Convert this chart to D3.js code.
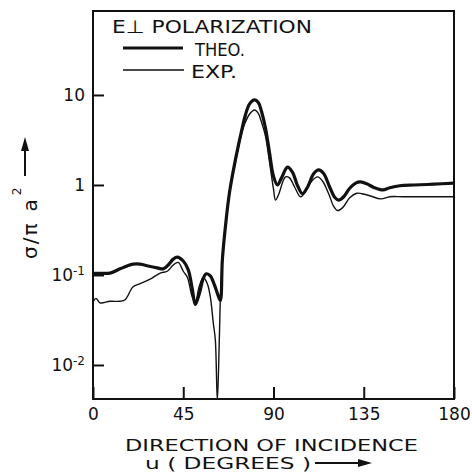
<!DOCTYPE html>
<html>
<head>
<meta charset="utf-8">
<script src="https://cdn.jsdelivr.net/npm/d3@7"></script>
<style>
  body { margin: 0; background: #fff; }
  svg { display: block; }
  text { font-family: "DejaVu Sans", sans-serif; fill: #111; }
</style>
</head>
<body>
<svg id="chart" width="472" height="472"></svg>
<script>
// Direction of incidence u (degrees) and normalised cross-section sigma / (pi a^2)
const theoAngle = [0, 1, 8.5, 13.5, 17, 20, 23.5, 27.5, 32, 35, 37.5, 40, 42, 45, 47.5, 49.5, 51, 53, 55, 56.5, 58.5, 60.5, 62.5, 63.5, 64.5, 66, 68, 71, 74.5, 76, 78, 80.5, 82.5, 84, 86, 88, 90, 92, 94, 97, 99.5, 102, 104.5, 107, 110, 112.5, 115, 118, 120.5, 122.5, 125, 128, 131, 133.5, 136.5, 140, 144.5, 148, 153, 160, 170, 180];
const theoSigma = [0.102, 0.104, 0.105, 0.117, 0.126, 0.132, 0.132, 0.126, 0.12, 0.117, 0.129, 0.15, 0.158, 0.143, 0.114, 0.07, 0.047, 0.062, 0.092, 0.103, 0.098, 0.078, 0.058, 0.052, 0.147, 0.34, 0.81, 1.9, 4.4, 6.0, 7.9, 8.8, 8.2, 6.6, 4.3, 2.3, 1.25, 1.0, 1.2, 1.58, 1.38, 0.98, 0.8, 0.95, 1.33, 1.47, 1.34, 0.95, 0.73, 0.68, 0.74, 0.92, 1.05, 1.08, 1.03, 0.94, 0.88, 0.93, 0.98, 1.0, 1.02, 1.05];

const expAngle = [0, 1.5, 3.5, 8.5, 13.5, 16, 20, 23.5, 28.5, 33.5, 37, 40, 42.5, 45, 47, 49.5, 51, 53, 55, 57, 58.5, 60, 61, 62, 63, 63.5, 64.5, 66, 68, 71, 74.5, 76, 78, 80.5, 82.5, 84, 86, 88, 90, 91, 92.5, 96, 98, 100.5, 103.5, 106, 109, 112, 114.5, 117.5, 120, 122, 124.5, 128, 131.5, 134, 138, 143.5, 148, 155, 180];
const expSigma = [0.05, 0.055, 0.049, 0.051, 0.051, 0.053, 0.074, 0.08, 0.09, 0.105, 0.11, 0.129, 0.138, 0.11, 0.095, 0.057, 0.05, 0.075, 0.093, 0.08, 0.057, 0.029, 0.019, 0.004, 0.02, 0.053, 0.14, 0.33, 0.78, 1.8, 4.0, 5.0, 6.1, 6.8, 6.2, 5.0, 3.5, 1.8, 0.9, 0.68, 0.78, 1.23, 1.2, 0.95, 0.74, 0.85, 1.1, 1.23, 1.1, 0.8, 0.58, 0.52, 0.56, 0.72, 0.81, 0.8, 0.76, 0.7, 0.74, 0.74, 0.74];

const xTicks = [0, 45, 90, 135, 180];
const yTicks = [10, 1, 0.1, 0.01];
const yTickBase = ["10", "1", "10", "10"];
const yTickExp = ["", "", "-1", "-2"];

const svg = d3.select("#chart");
const plotLeft = 93, plotRight = 454, plotTop = 11, plotBottom = 399;

const x = d3.scaleLinear().domain([0, 180]).range([plotLeft, plotRight]);
const y = d3.scaleLog().domain([Math.pow(10, -2.378), Math.pow(10, 1.933)]).range([plotBottom, plotTop]);

// clip for the curves
svg.append("defs").append("clipPath").attr("id", "plot")
  .append("rect").attr("x", plotLeft).attr("y", plotTop)
  .attr("width", plotRight - plotLeft).attr("height", plotBottom - plotTop);

// x axis (ticks point inward)
const gx = svg.append("g").attr("transform", `translate(0,${plotBottom})`)
  .call(d3.axisBottom(x).tickValues(xTicks).tickSize(-12).tickPadding(9).tickFormat(d3.format("d")));
gx.select(".domain").remove();
gx.selectAll("line").attr("stroke", "#111").attr("stroke-width", 2);
gx.selectAll("text").attr("font-size", 17).attr("font-family", "DejaVu Sans").attr("fill", "#111");

// y axis (log, ticks inward, power labels)
const gy = svg.append("g").attr("transform", `translate(${plotLeft},0)`)
  .call(d3.axisLeft(y).tickValues(yTicks).tickSize(-11).tickPadding(8).tickFormat(() => ""));
gy.select(".domain").remove();
gy.selectAll("line").attr("stroke", "#111").attr("stroke-width", 2);
gy.selectAll(".tick text").each(function(d) {
  const i = yTicks.indexOf(d);
  const t = d3.select(this).attr("font-size", 17).attr("font-family", "DejaVu Sans").attr("fill", "#111");
  t.text(null);
  t.append("tspan").text(yTickBase[i]);
  if (yTickExp[i]) {
    t.append("tspan").attr("font-size", 12).attr("dy", "-0.5em").text(yTickExp[i]);
  }
});

// frame
svg.append("rect").attr("x", plotLeft).attr("y", plotTop)
  .attr("width", plotRight - plotLeft).attr("height", plotBottom - plotTop)
  .attr("fill", "none").attr("stroke", "#111").attr("stroke-width", 2);

// curves
const line = d3.line()
  .x(d => x(d[0])).y(d => y(d[1]))
  .curve(d3.curveCatmullRom.alpha(0.5));
const theo = theoAngle.map((u, i) => [u, theoSigma[i]]);
const exp = expAngle.map((u, i) => [u, expSigma[i]]);

const curves = svg.append("g").attr("clip-path", "url(#plot)");
curves.append("path").datum(exp).attr("d", line)
  .attr("fill", "none").attr("stroke", "#111").attr("stroke-width", 1.4);
curves.append("path").datum(theo).attr("d", line)
  .attr("fill", "none").attr("stroke", "#111").attr("stroke-width", 3.2);

// legend
svg.append("text").attr("x", 112).attr("y", 33).attr("font-size", 18)
  .attr("textLength", 200).attr("lengthAdjust", "spacingAndGlyphs").text("E⊥ POLARIZATION");
svg.append("line").attr("x1", 123).attr("x2", 183).attr("y1", 48).attr("y2", 48)
  .attr("stroke", "#111").attr("stroke-width", 3.2);
svg.append("text").attr("x", 195).attr("y", 56).attr("font-size", 18)
  .attr("textLength", 50).attr("lengthAdjust", "spacingAndGlyphs").text("THEO.");
svg.append("line").attr("x1", 123).attr("x2", 184).attr("y1", 70).attr("y2", 70)
  .attr("stroke", "#111").attr("stroke-width", 1.4);
svg.append("text").attr("x", 191).attr("y", 78).attr("font-size", 18)
  .attr("textLength", 46).attr("lengthAdjust", "spacingAndGlyphs").text("EXP.");

// axis titles
svg.append("text").attr("x", 125).attr("y", 451).attr("font-size", 15)
  .attr("textLength", 293).attr("lengthAdjust", "spacingAndGlyphs").text("DIRECTION OF INCIDENCE");
svg.append("text").attr("x", 145).attr("y", 469).attr("font-size", 15)
  .attr("textLength", 166).attr("lengthAdjust", "spacingAndGlyphs").text("u ( DEGREES )");
svg.append("line").attr("x1", 315).attr("x2", 362).attr("y1", 463).attr("y2", 463)
  .attr("stroke", "#111").attr("stroke-width", 2);
svg.append("path").attr("d", "M372,463 L358,459 L358,467 Z").attr("fill", "#111");

const yl = svg.append("text").attr("transform", "translate(37,259) rotate(-90)")
  .attr("font-size", 20).attr("letter-spacing", 2);
yl.append("tspan").text("σ/π");
yl.append("tspan").attr("dx", 10).text("a");
yl.append("tspan").attr("font-size", 12).attr("letter-spacing", 0).attr("dy", -16).attr("dx", 2).text("2");
svg.append("line").attr("x1", 25).attr("x2", 25).attr("y1", 176).attr("y2", 148)
  .attr("stroke", "#111").attr("stroke-width", 2);
svg.append("path").attr("d", "M25,137 L21,151 L29,151 Z").attr("fill", "#111");
</script>
</body>
</html>
